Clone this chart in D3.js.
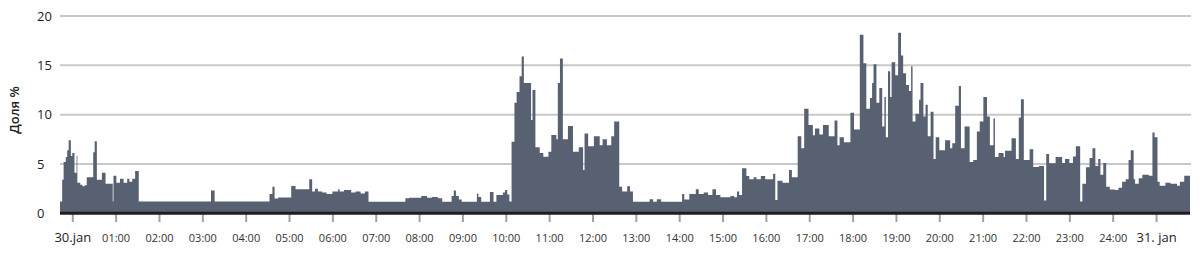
<!DOCTYPE html>
<html><head><meta charset="utf-8">
<script src="https://cdn.jsdelivr.net/npm/d3@7"></script>
<style>body{margin:0;background:#fff} svg{display:block} text{font-family:'Open Sans',sans-serif}</style>
</head><body><svg id="c" width="1200" height="257"></svg>
<script>
// start minute of each step (minutes after 30.jan 00:00) and share value (%)
const startMinute = [
 -17,-14,-12,-9,-7,-5,-2,0,3,6,
 7,11,14,17,20,29,31,34,41,46,
 56,57,61,66,71,76,79,83,87,92,
 192,197,273,277,280,285,303,309,328,332,
 336,340,346,352,360,368,370,376,386,392,
 399,405,410,461,466,483,491,498,506,512,
 525,528,531,535,539,560,562,566,578,583,
 587,596,599,602,605,608,612,615,619,622,
 625,635,637,641,647,652,659,663,670,672,
 675,679,686,693,701,707,709,714,722,730,
 734,740,746,750,757,761,768,772,776,799,
 804,809,815,844,847,854,863,867,874,880,
 886,891,897,911,916,920,923,927,933,937,
 943,947,953,959,970,973,976,983,992,996,
 1004,1009,1013,1019,1025,1028,1034,1039,1047,1055,
 1059,1062,1068,1077,1082,1090,1095,1099,1104,1107,
 1109,1113,1117,1121,1124,1126,1129,1132,1134,1139,
 1143,1147,1150,1154,1158,1161,1163,1167,1172,1174,
 1178,1181,1184,1188,1192,1195,1200,1208,1215,1218,
 1222,1227,1230,1235,1242,1247,1252,1256,1261,1266,
 1270,1275,1277,1282,1289,1291,1300,1306,1310,1313,
 1317,1325,1330,1338,1345,1348,1352,1361,1370,1374,
 1380,1385,1389,1395,1398,1403,1408,1412,1416,1420,
 1423,1427,1431,1436,1443,1448,1453,1458,1462,1465,
 1469,1471,1476,1481,1490,1495,1498,1502,1505,1513,
 1520,1529,1533,1539
];
const share = [
 1.2,3.4,5.2,5.7,6.4,7.4,5.8,6.1,4.1,5.8,
 3.1,2.9,2.75,2.85,3.65,6.2,7.3,3.4,4.1,3.0,
 1.2,3.8,3.1,3.5,3.1,3.5,3.2,3.5,4.3,1.2,
 2.3,1.2,1.96,2.7,1.5,1.6,2.77,2.43,3.45,2.2,
 2.5,2.2,2.1,1.96,2.2,2.43,2.2,2.36,2.1,2.2,
 2.0,2.2,1.18,1.52,1.58,1.75,1.58,1.65,1.52,1.18,
 1.75,2.3,1.75,1.4,1.18,2.0,1.65,1.18,2.16,1.18,
 1.86,2.1,2.36,1.9,1.2,7.26,11.2,12.3,13.9,15.9,
 13.2,9.45,12.5,6.7,6.1,5.74,6.25,7.94,7.5,13.2,
 15.7,7.5,8.85,6.25,6.7,4.4,8.1,6.8,7.8,6.9,
 7.5,6.9,7.8,9.3,2.7,2.2,2.75,2.2,1.18,1.42,
 1.18,1.42,1.18,1.96,1.4,1.96,2.43,1.96,2.1,1.85,
 2.43,1.85,1.62,1.75,1.62,2.2,1.85,4.56,3.78,3.45,
 3.65,3.45,3.78,3.45,4.0,1.35,3.3,3.1,4.4,3.65,
 7.8,6.6,10.6,8.95,7.9,8.6,8.0,8.95,7.8,9.4,
 6.9,7.7,7.2,10.2,8.5,18.1,15.2,10.6,11.7,13.2,
 15.1,11.2,12.7,8.8,11.8,7.7,14.4,11.8,15.3,14.0,
 18.3,16.0,14.2,13.0,12.4,14.9,9.3,10.1,11.5,13.2,
 9.8,11.0,7.8,10.3,5.5,7.7,6.4,7.4,6.6,7.1,
 10.9,12.9,6.6,8.8,5.2,5.4,8.3,9.3,11.8,9.8,
 6.9,9.6,5.7,6.1,5.7,6.35,7.6,5.5,9.7,11.55,
 5.4,6.5,4.7,4.8,1.3,6.0,5.07,5.7,5.1,5.5,
 5.1,5.75,6.8,1.2,3.0,4.66,5.6,6.6,4.8,5.5,
 3.9,5.1,2.7,2.4,2.36,2.6,3.2,3.45,5.4,6.4,
 3.45,3.0,3.55,3.9,3.8,8.2,7.7,3.2,2.8,3.1,
 3.0,2.8,3.2,3.8
];
const domainStart = -17;
const endMinute = 1547;
const yTicks = [0, 5, 10, 15, 20];
const tickLabels = ["30.jan","01:00","02:00","03:00","04:00","05:00","06:00","07:00","08:00","09:00",
  "10:00","11:00","12:00","13:00","14:00","15:00","16:00","17:00","18:00","19:00","20:00",
  "21:00","22:00","23:00","24:00","31. jan"];
const tickMinutes = tickLabels.map((d, i) => i * 60);
const yTitle = "Доля %";

const svg = d3.select("#c");
const x = d3.scaleLinear().domain([domainStart, endMinute]).range([60, 1190]);
const y = d3.scaleLinear().domain([0, 20]).range([213.3, 16]);

// gridlines
svg.append("g").selectAll("line").data(yTicks.filter(d => d > 0)).join("line")
  .attr("x1", 60).attr("x2", 1191)
  .attr("y1", d => y(d)).attr("y2", d => y(d))
  .attr("stroke", "#c8c8cc").attr("stroke-width", 2);

// step area
const pts = startMinute.map((t, i) => [t, share[i]]);
pts.push([endMinute, share[share.length - 1]]);
const area = d3.area().x(d => x(d[0])).y0(y(0)).y1(d => y(d[1])).curve(d3.curveStepAfter);
svg.append("path").datum(pts).attr("d", area).attr("fill", "#576171");

// x axis
const xAxis = d3.axisBottom(x).tickValues(tickMinutes).tickFormat((d, i) => tickLabels[i]).tickSize(9).tickPadding(0);
const gx = svg.append("g").attr("transform", "translate(0,213)").call(xAxis);
gx.select(".domain").remove();
gx.selectAll(".tick line").attr("stroke", "#a0a0a0").attr("stroke-width", 2);
gx.selectAll(".tick text").attr("y", 29).attr("dy", 0).attr("fill", "#333").style("font-size", "11px");
gx.selectAll(".tick text").filter((d, i) => i === 0 || i === tickLabels.length - 1)
  .style("font-size", "13px").style("font-weight", "500").attr("fill", "#222");

// baseline
svg.append("line").attr("x1", 60).attr("x2", 1190).attr("y1", y(0)).attr("y2", y(0))
  .attr("stroke", "#1e1e1e").attr("stroke-width", 3);

// y axis
const yAxis = d3.axisLeft(y).tickValues(yTicks).tickSize(0).tickPadding(0);
const gy = svg.append("g").attr("transform", "translate(60,0)").call(yAxis);
gy.select(".domain").remove();
gy.selectAll(".tick text").attr("x", -23).attr("text-anchor", "start").attr("fill", "#222").style("font-size", "13px");

svg.append("text").attr("transform", "translate(19,110) rotate(-90)").attr("text-anchor", "middle")
  .attr("fill", "#222").style("font-size", "13px").style("font-weight", "600").text(yTitle);
</script></body></html>
